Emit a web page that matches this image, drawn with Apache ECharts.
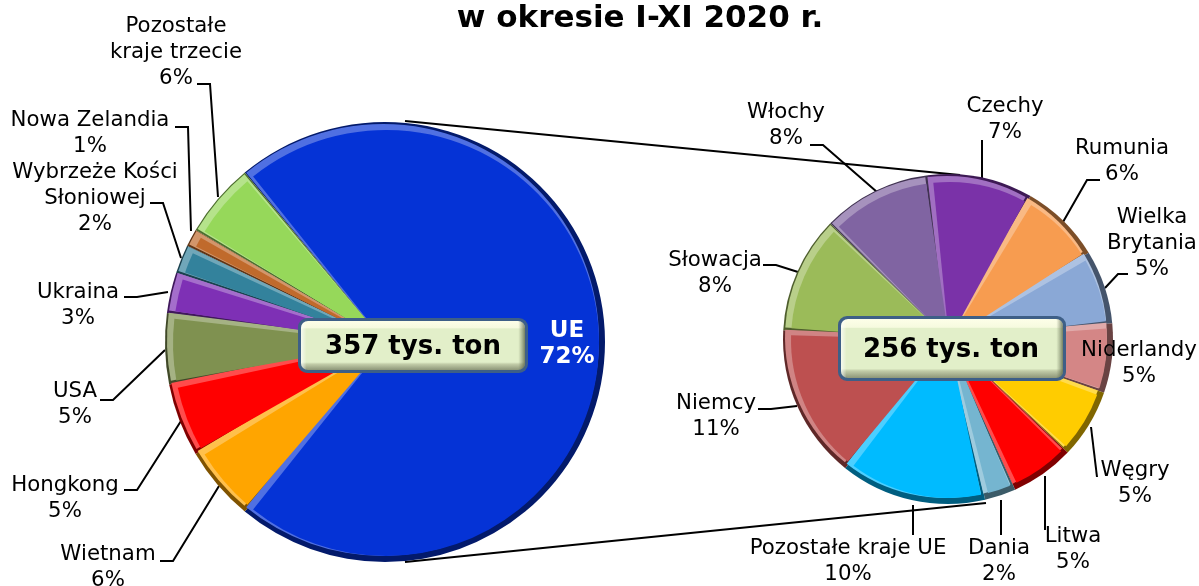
<!DOCTYPE html>
<html>
<head>
<meta charset="utf-8">
<title>Wykres</title>
<style>
    html, body { margin: 0; padding: 0; background: #fff; }
    #main { width: 1199px; height: 586px; }
</style>
<script src="https://cdn.jsdelivr.net/npm/echarts@6/dist/echarts.min.js"></script>
</head>
<body>
<div id="main"></div>
<script>
// lewy wykres - udzial w calosci
var leftNames = ['UE', 'Wietnam', 'Hongkong', 'USA', 'Ukraina', 'Wybrzeże Kości\nSłoniowej', 'Nowa Zelandia', 'Pozostałe\nkraje trzecie'];
var leftValues = [72, 5.5, 5.4, 5.2, 3, 2.1, 1.3, 5.5];
var leftColors = ['#0533d6', '#ffa500', '#ff0000', '#7f9150', '#7e30b5', '#33829c', '#c06a2c', '#96d85a'];

// prawy wykres - rozbicie UE
var rightNames = ['Czechy', 'Rumunia', 'Wielka\nBrytania', 'Niderlandy', 'Węgry', 'Litwa', 'Dania', 'Pozostałe kraje UE', 'Niemcy', 'Słowacja', 'Włochy'];
var rightValues = [7.4, 5.7, 5.2, 4.9, 4.9, 4.5, 2.2, 10.3, 10.9, 8.3, 7.7];
var rightColors = ['#7a32a8', '#f79c50', '#8aa8d6', '#d48686', '#ffcc00', '#ff0000', '#75b5d0', '#00bbff', '#bd5050', '#9bbb59', '#8064a2'];

var titleText = 'w okresie I-XI 2020 r.';
var leftTotal = '357 tys. ton';
var rightTotal = '256 tys. ton';

// polozenie etykiet: srodek tekstu + lamana linia do wycinka
var leftLabels = [
    { x: 567, y: 344, white: true },
    { x: 108, y: 567, line: [[160, 561], [173, 561], [219, 486]] },
    { x: 65, y: 498, line: [[124, 490], [137, 490], [181, 421]] },
    { x: 75, y: 404, line: [[100, 400], [113, 400], [165, 350]] },
    { x: 78, y: 305, line: [[124, 297], [137, 297], [168, 292]] },
    { x: 95, y: 198, line: [[150, 203], [163, 203], [181, 258]] },
    { x: 90, y: 133, line: [[175, 127], [188, 127], [191, 231]] },
    { x: 176, y: 52, line: [[197, 84], [210, 84], [218, 197]] }
];
var rightLabels = [
    { x: 1005, y: 119, line: [[982, 140], [982, 178]] },
    { x: 1122, y: 161, line: [[1100, 180], [1087, 180], [1063, 222]] },
    { x: 1152, y: 243, line: [[1128, 274], [1118, 274], [1105, 288]] },
    { x: 1139, y: 363 },
    { x: 1135, y: 483, line: [[1097, 477], [1091, 427]] },
    { x: 1073, y: 549, line: [[1045, 530], [1045, 476]] },
    { x: 999, y: 561, line: [[1001, 535], [1001, 500]] },
    { x: 848, y: 561, line: [[913, 535], [913, 505]] },
    { x: 716, y: 416, line: [[758, 409], [771, 409], [797, 406]] },
    { x: 715, y: 273, line: [[763, 265], [776, 265], [798, 272]] },
    { x: 786, y: 125, line: [[810, 145], [823, 145], [877, 192]] }
];

var chart = echarts.init(document.getElementById('main'));
var FONT = '"DejaVu Sans", Verdana, sans-serif';

// przyciemnienie koloru
function darken(c, k) {
    var p = echarts.color.parse(c);
    return 'rgb(' + Math.round(p[0] * k) + ',' + Math.round(p[1] * k) + ',' + Math.round(p[2] * k) + ')';
}

function toData(names, values, colors, paint, layout) {
    var out = [];
    for (var i = 0; i < names.length; i++) {
        var item = {
            name: names[i],
            value: values[i],
            itemStyle: { color: paint(colors[i]) }
        };
        if (layout) {
            item.label = {
                color: layout[i].white ? '#fff' : '#000',
                fontWeight: layout[i].white ? 'bold' : 'normal',
                fontSize: layout[i].white ? 23 : 21.3
            };
            item.labelLine = { show: !!layout[i].line };
        }
        out.push(item);
    }
    return out;
}

// jeden wykres to trzy nalozone warstwy kola, zeby wyszla fazka jak w oryginale
function bevelPie(cx, cy, r, start, names, values, colors, layout, pad) {
    var base = {
        type: 'pie', silent: true, animation: false, startAngle: start,
        label: { show: false }, labelLine: { show: false }, z: 2
    };
    var dark = Object.assign({}, base, {
        center: [cx, cy], radius: [0, r],
        data: toData(names, values, colors, function (c) { return darken(c, 0.5); })
    });
    var light = Object.assign({}, base, {
        center: [cx - 2, cy - 2], radius: [0, r - 4], padAngle: pad * 0.3,
        data: toData(names, values, colors, function (c) { return echarts.color.lift(c, 0.3); })
    });
    var top = Object.assign({}, base, {
        center: [cx + 1, cy + 1], radius: [0, r - 7], padAngle: pad,
        avoidLabelOverlap: false,
        data: toData(names, values, colors, function (c) { return c; }, layout),
        label: {
            show: true, position: 'outside', fontFamily: FONT, fontSize: 21.3, lineHeight: 26,
            overflow: 'none',
            formatter: function (p) { return p.name + '\n' + Math.round(p.value) + '%'; }
        },
        labelLine: { show: true, lineStyle: { color: '#000', width: 2 } },
        labelLayout: function (p) {
            var l = layout[p.dataIndex];
            var res = { x: l.x, y: l.y, align: 'center', verticalAlign: 'middle' };
            if (l.line) { res.labelLinePoints = l.line; }
            return res;
        }
    });
    return [dark, light, top];
}

// zielona ramka z suma
function totalBox(x, y, w, h, text, tx, ty) {
    return {
        type: 'group', z: 50,
        children: [
            { type: 'rect', z: 50, shape: { x: x, y: y, width: w, height: h, r: 9 }, style: { fill: '#3e5f87' } },
            {
                type: 'rect', z: 51, shape: { x: x + 3, y: y + 3, width: w - 6, height: h - 6, r: 7 },
                style: {
                    fill: {
                        type: 'linear', x: 0, y: 0, x2: 0, y2: 1,
                        colorStops: [
                            { offset: 0, color: '#fdfee8' }, { offset: 0.14, color: '#f6fadf' },
                            { offset: 0.16, color: '#e2efc9' }, { offset: 0.84, color: '#e2efc9' },
                            { offset: 0.88, color: '#c2cca8' }, { offset: 1, color: '#8d9678' }
                        ]
                    }
                }
            },
            {
                type: 'rect', z: 52, shape: { x: x + 3, y: y + 3, width: w - 6, height: h - 6, r: 7 },
                style: {
                    fill: {
                        type: 'linear', x: 0, y: 0, x2: 1, y2: 0,
                        colorStops: [
                            { offset: 0, color: 'rgba(255,255,255,0.7)' }, { offset: 0.025, color: 'rgba(255,255,255,0)' },
                            { offset: 0.97, color: 'rgba(100,110,80,0)' }, { offset: 1, color: 'rgba(70,80,55,0.7)' }
                        ]
                    }
                }
            },
            {
                type: 'text', z: 53, x: tx, y: ty,
                style: { text: text, fontFamily: FONT, fontWeight: 'bold', fontSize: 26, fill: '#000', align: 'center', verticalAlign: 'middle' }
            }
        ]
    };
}

chart.setOption({
    backgroundColor: '#fff',
    title: {
        text: titleText, left: 635, top: -2, textAlign: 'center',
        textStyle: { fontFamily: FONT, fontWeight: 'bold', fontSize: 31, color: '#000' }
    },
    series: [].concat(
        bevelPie(385, 342, 220, 129.6, leftNames, leftValues, leftColors, leftLabels, 2),
        bevelPie(948, 339, 165, 97, rightNames, rightValues, rightColors, rightLabels, 2.6)
    ),
    graphic: [
        // linie laczace oba kola
        { type: 'line', z: 0, shape: { x1: 405, y1: 121, x2: 960, y2: 175 }, style: { stroke: '#000', lineWidth: 2 } },
        { type: 'line', z: 0, shape: { x1: 405, y1: 562, x2: 986, y2: 503 }, style: { stroke: '#000', lineWidth: 2 } },
        totalBox(298, 318, 230, 55, leftTotal, 413, 347),
        totalBox(838, 316, 228, 65, rightTotal, 951, 350)
    ]
});
</script>
</body>
</html>
